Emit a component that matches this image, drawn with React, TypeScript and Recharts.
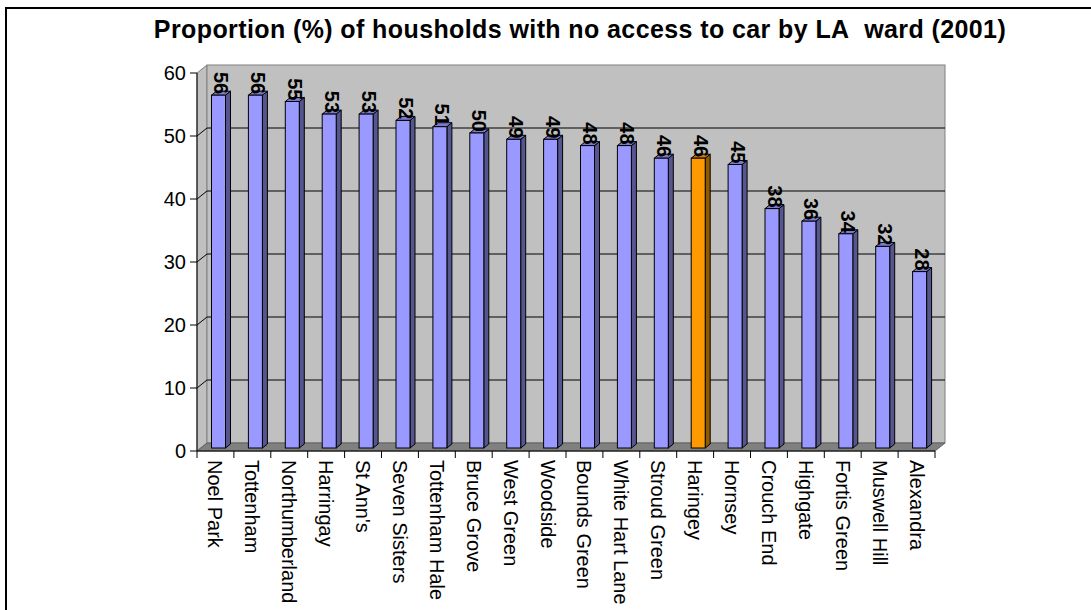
import React from "react";
import {
  BarChart,
  Bar,
  XAxis,
  YAxis,
  ReferenceArea,
  ReferenceLine,
  LabelList,
} from "recharts";

const categories = [
  "Noel Park",
  "Tottenham",
  "Northumberland",
  "Harringay",
  "St Ann's",
  "Seven Sisters",
  "Tottenham Hale",
  "Bruce Grove",
  "West Green",
  "Woodside",
  "Bounds Green",
  "White Hart Lane",
  "Stroud Green",
  "Haringey",
  "Hornsey",
  "Crouch End",
  "Highgate",
  "Fortis Green",
  "Muswell Hill",
  "Alexandra",
];
const values = [56, 56, 55, 53, 53, 52, 51, 50, 49, 49, 48, 48, 46, 46, 45, 38, 36, 34, 32, 28];
const highlighted = "Haringey";
const yTicks = [0, 10, 20, 30, 40, 50, 60];
const gridValues = [10, 20, 30, 40, 50];

const data = categories.map((name, i) => ({ name, value: values[i] }));

const FONT = "'Liberation Sans', Arial, sans-serif";
// 3D depth of the walls and of the bars
const WALL_DX = 10;
const WALL_DY = 8;
const BAR_SHIFT_X = 3.5;
const BAR_SHIFT_Y = 3;
const BAR_DX = 5;
const BAR_DY = 4;

// ── walls + floor, sized by the plot area ─────────────────────────────────────
function Walls(props: any) {
  const { x, y, width, height } = props;
  const b = y + height;
  return (
    <g>
      <polygon
        points={`${x},${b} ${x},${y} ${x + WALL_DX},${y - WALL_DY} ${x + WALL_DX},${b - WALL_DY}`}
        fill="#c0c0c0"
        stroke="#808080"
      />
      <rect x={x + WALL_DX} y={y - WALL_DY} width={width} height={height} fill="#c0c0c0" stroke="#808080" />
      <polygon
        points={`${x},${b} ${x + width},${b} ${x + width + WALL_DX},${b - WALL_DY} ${x + WALL_DX},${b - WALL_DY}`}
        fill="#808080"
        stroke="#606060"
      />
    </g>
  );
}

function GridLine(props: any) {
  const { x1, y1, x2, y2 } = props;
  return (
    <g>
      <line x1={x1} y1={y1} x2={x1 + WALL_DX} y2={y1 - WALL_DY} stroke="#000" strokeWidth={1} />
      <line x1={x1 + WALL_DX} y1={y1 - WALL_DY} x2={x2 + WALL_DX} y2={y2 - WALL_DY} stroke="#000" strokeWidth={1} />
    </g>
  );
}

// ── 3D bar: front, side and top faces ─────────────────────────────────────────
function Bar3D(props: any) {
  const { x, y, width, height, payload } = props;
  const hot = payload && payload.name === highlighted;
  const front = hot ? "#ff9900" : "#9999ff";
  const side = hot ? "#8f5a00" : "#56568f";
  const top = hot ? "#cc7a00" : "#7a7acc";
  const fx = x + BAR_SHIFT_X;
  const fy = y - BAR_SHIFT_Y;
  return (
    <g>
      <polygon
        points={`${fx + width},${fy} ${fx + width + BAR_DX},${fy - BAR_DY} ${fx + width + BAR_DX},${fy + height - BAR_DY} ${fx + width},${fy + height}`}
        fill={side}
        stroke="#000"
      />
      <polygon
        points={`${fx},${fy} ${fx + BAR_DX},${fy - BAR_DY} ${fx + width + BAR_DX},${fy - BAR_DY} ${fx + width},${fy}`}
        fill={top}
        stroke="#000"
      />
      <rect x={fx} y={fy} width={width} height={height} fill={front} stroke="#000" />
    </g>
  );
}

function ValueLabel(props: any) {
  const { x, y, width, value } = props;
  const cx = x + width / 2 + 6;
  const cy = y - 4;
  return (
    <text
      x={cx}
      y={cy}
      transform={`rotate(90 ${cx} ${cy})`}
      textAnchor="end"
      dominantBaseline="central"
      fontFamily={FONT}
      fontWeight="bold"
      fontSize={20}
      fill="#000"
    >
      {value}
    </text>
  );
}

function WardTick(props: any) {
  const { x, y, payload, index } = props;
  const half = payload && payload.offset ? payload.offset : 18.45;
  const axisY = y - 9;
  return (
    <g>
      <line x1={x - half} y1={axisY} x2={x - half} y2={axisY + 7} stroke="#000" />
      {index === categories.length - 1 && (
        <line x1={x + half} y1={axisY} x2={x + half} y2={axisY + 7} stroke="#000" />
      )}
      <text
        x={x}
        y={y}
        transform={`rotate(90 ${x} ${y})`}
        textAnchor="start"
        dominantBaseline="central"
        fontFamily={FONT}
        fontSize={20}
        fill="#000"
      >
        {payload.value}
      </text>
    </g>
  );
}

export default function App() {
  return (
    <div style={{ position: "absolute", left: 0, top: 0, width: 1091, height: 610, overflow: "hidden", background: "#fff" }}>
      <div
        style={{
          position: "absolute",
          left: 5,
          top: 7,
          width: 1100,
          height: 620,
          borderTop: "2px solid #000",
          borderLeft: "2px solid #000",
        }}
      />
      <div
        style={{
          position: "absolute",
          left: 80,
          width: 1000,
          top: 15,
          textAlign: "center",
          fontFamily: FONT,
          fontWeight: "bold",
          fontSize: 25,
          letterSpacing: 0.4,
          color: "#000",
          whiteSpace: "nowrap",
        }}
      >
        Proportion (%) of housholds with no access to car by LA&nbsp; ward (2001)
      </div>
      <div style={{ position: "absolute", left: 0, top: 0 }}>
        <BarChart
          width={1091}
          height={610}
          data={data}
          margin={{ top: 73, right: 156, bottom: 9, left: 137 }}
        >
          <ReferenceArea y1={0} y2={60} shape={<Walls />} zIndex={-200} ifOverflow="visible" />
          {gridValues.map((v) => (
            <ReferenceLine key={v} y={v} shape={<GridLine />} zIndex={-150} ifOverflow="visible" />
          ))}
          <XAxis
            dataKey="name"
            interval={0}
            height={150}
            tickLine={false}
            tickSize={7}
            tickMargin={2}
            axisLine={{ stroke: "#000" }}
            tick={<WardTick />}
          />
          <YAxis
            domain={[0, 60]}
            ticks={yTicks}
            width={60}
            tickSize={7}
            tickMargin={4}
            axisLine={{ stroke: "#000" }}
            tickLine={{ stroke: "#000" }}
            tick={{ fontFamily: FONT, fontSize: 20, fill: "#000" }}
          />
          <Bar dataKey="value" barSize={14} shape={<Bar3D />} isAnimationActive={false}>
            <LabelList dataKey="value" content={<ValueLabel />} />
          </Bar>
        </BarChart>
      </div>
    </div>
  );
}
